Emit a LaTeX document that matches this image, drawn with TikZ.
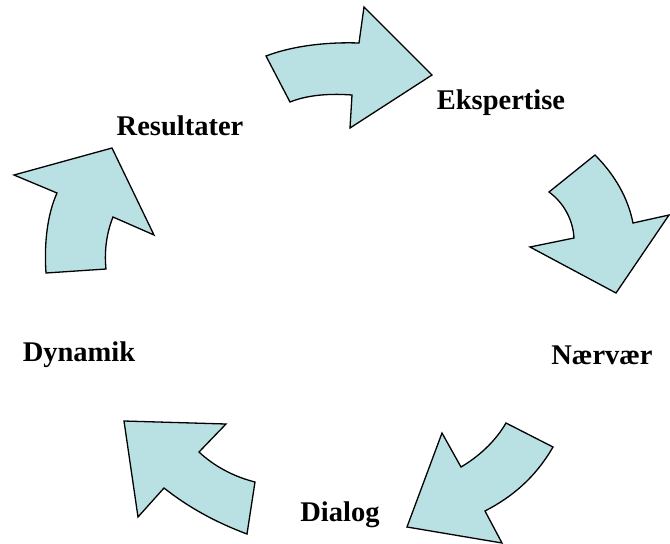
\documentclass[tikz,border=0pt]{standalone}
\usepackage{fontspec}
\setmainfont{Liberation Serif}
\definecolor{arrowfill}{RGB}{185,224,227}
\tikzset{
  bigarrow/.style={draw=black, fill=arrowfill, line width=1.3pt, line join=miter},
  lbl/.style={font=\fontsize{28.5}{30}\selectfont\bfseries, inner sep=0pt}
}
\begin{document}
\begin{tikzpicture}[x=1pt,y=-1pt]
\useasboundingbox (0,0) rectangle (670,544);
% top arrow
\path[bigarrow] (266,56) .. controls (295,45) and (330,42) .. (359,43) -- (364,7) -- (432,75) -- (350,128) -- (352,95) .. controls (325,93) and (305,96) .. (290,102) -- cycle;
% right arrow
\path[bigarrow] (595,155) .. controls (615,175) and (628,198) .. (633,223) -- (669,215) -- (616,293) -- (530,247) -- (574,238) .. controls (573,220) and (564,203) .. (549,192) -- cycle;
% bottom-right arrow
\path[bigarrow] (506,423) -- (553,447) .. controls (535,478) and (512,497) .. (485,511) -- (502,543) -- (407,527) -- (442,433) -- (461,467) .. controls (478,457) and (495,442) .. (506,423) -- cycle;
% bottom-left arrow
\path[bigarrow] (124,421) -- (226,424) -- (199,452) .. controls (215,467) and (235,477) .. (255,482) -- (247,534) .. controls (215,522) and (188,507) .. (164,488) -- (138,517) -- cycle;
% left arrow
\path[bigarrow] (46,273) -- (106,269) .. controls (104,250) and (107,232) .. (113,217) -- (154,235) -- (112,148) -- (14,175) -- (57,193) .. controls (47,215) and (44,245) .. (46,273) -- cycle;
% labels
\node[lbl] (eks) at (501,103) {Ekspertise};
\node[lbl] (res) at (180,126) {Resultater};
\node[lbl] (dyn) at (79,355) {Dynamik};
\node[lbl] (naer) at (602,355) {Nærvær};
\node[lbl] (dia) at (340,515) {Dialog};
\end{tikzpicture}
\end{document}
